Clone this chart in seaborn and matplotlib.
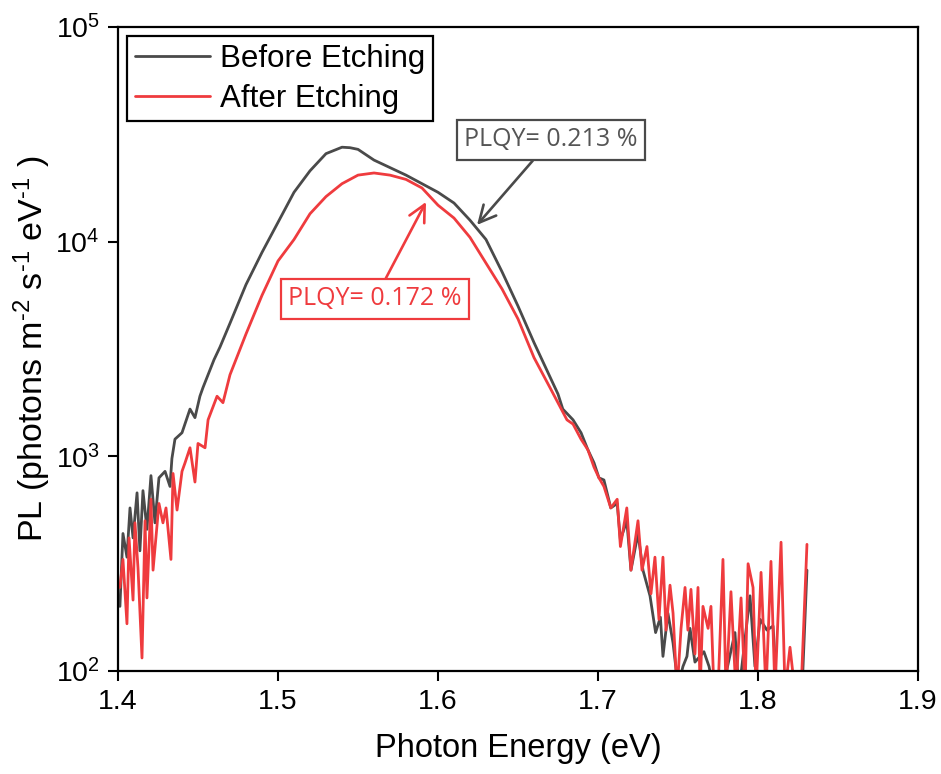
import pandas as pd
import seaborn as sns
import matplotlib.pyplot as plt
import numpy as np
from matplotlib.ticker import NullLocator, LogLocator

# Espectros PL (eV, photons m^-2 s^-1 eV^-1)
before_x = [1.4012, 1.4031, 1.4056, 1.4075, 1.4094, 1.4119, 1.4137, 1.4156, 1.4181, 1.4206,
            1.4231, 1.4256, 1.4294, 1.4325, 1.4337, 1.4356, 1.4400, 1.4450, 1.4481, 1.4512,
            1.4531, 1.4600, 1.4638, 1.4700, 1.4800, 1.4900, 1.5000, 1.5100, 1.5200, 1.5300,
            1.5400, 1.5450, 1.5500, 1.5600, 1.5700, 1.5800, 1.5900, 1.6000, 1.6100, 1.6200,
            1.6300, 1.6400, 1.6500, 1.6600, 1.6700, 1.6750, 1.6780, 1.6844, 1.6894, 1.6937,
            1.6975, 1.7006, 1.7037, 1.7080, 1.7120, 1.7140, 1.7180, 1.7206, 1.7250, 1.7281,
            1.7325, 1.7360, 1.7390, 1.7406, 1.7437, 1.7469, 1.7500, 1.7531, 1.7556, 1.7575,
            1.7606, 1.7662, 1.7694, 1.7725, 1.7775, 1.7856, 1.7881, 1.7950, 1.7981, 1.8013,
            1.8056, 1.8094, 1.8119, 1.8156, 1.8219, 1.8275, 1.8306]
before_pl = [200, 437, 339, 575, 417, 676, 363, 692, 457, 813,
             490, 794, 851, 724, 977, 1202, 1288, 1660, 1514, 1905,
             2089, 2818, 3236, 4169, 6310, 8913, 12300, 16982, 21380, 25704,
             27542, 27400, 26915, 23988, 22130, 20417, 18621, 16982, 15136, 12589,
             10233, 7244, 5012, 3388, 2344, 1950, 1660, 1479, 1288, 1072,
             933, 794, 776, 575, 603, 407, 501, 295, 437, 295,
             224, 151, 178, 117, 186, 135, 85, 105, 117, 158,
             110, 123, 105, 80, 80, 151, 80, 224, 105, 174,
             155, 162, 80, 80, 80, 80, 295]

after_x = [1.4012, 1.4031, 1.4056, 1.4069, 1.4094, 1.4106, 1.4125, 1.4150, 1.4169, 1.4181,
           1.4206, 1.4219, 1.4256, 1.4281, 1.4300, 1.4331, 1.4344, 1.4369, 1.4400, 1.4419,
           1.4450, 1.4481, 1.4500, 1.4544, 1.4563, 1.4619, 1.4656, 1.4700, 1.4800, 1.4900,
           1.5000, 1.5100, 1.5200, 1.5300, 1.5400, 1.5500, 1.5600, 1.5700, 1.5800, 1.5900,
           1.6000, 1.6100, 1.6200, 1.6300, 1.6400, 1.6500, 1.6600, 1.6700, 1.6806, 1.6844,
           1.6894, 1.6937, 1.6975, 1.7006, 1.7037, 1.7080, 1.7120, 1.7140, 1.7180, 1.7206,
           1.7250, 1.7275, 1.7306, 1.7331, 1.7356, 1.7381, 1.7406, 1.7425, 1.7450, 1.7469,
           1.7494, 1.7519, 1.7544, 1.7562, 1.7581, 1.7606, 1.7625, 1.7638, 1.7656, 1.7688,
           1.7706, 1.7725, 1.7750, 1.7781, 1.7800, 1.7831, 1.7862, 1.7894, 1.7919, 1.7938,
           1.7969, 1.7988, 1.8019, 1.8050, 1.8081, 1.8106, 1.8144, 1.8169, 1.8200, 1.8231,
           1.8269, 1.8306]
after_pl = [245, 331, 166, 417, 214, 490, 302, 115, 501, 219,
            631, 295, 603, 490, 575, 331, 832, 562, 851, 933,
            1096, 759, 1148, 1096, 1479, 1905, 1778, 2399, 3715, 5623,
            8128, 10233, 13490, 16218, 18621, 20417, 20893, 20417, 19498, 17783,
            14791, 12882, 10471, 7943, 6026, 4365, 2884, 2089, 1479, 1413,
            1202, 1072, 891, 794, 724, 575, 631, 380, 575, 295,
            501, 295, 380, 229, 339, 174, 339, 155, 251, 186,
            80, 158, 245, 155, 240, 120, 245, 80, 200, 158,
            200, 80, 80, 331, 80, 234, 80, 219, 80, 316,
            245, 80, 288, 80, 324, 80, 398, 80, 129, 80,
            80, 389]

labels = ['Before Etching', 'After Etching']
plqy = ['PLQY= 0.213 %', 'PLQY= 0.172 %']
gris = '#4a4a4a'
rojo = '#ef3b3e'

sns.set_style('ticks')
plt.rcParams['font.family'] = ['Liberation Sans', 'DejaVu Sans']
plt.rcParams['mathtext.fontset'] = 'custom'
plt.rcParams['mathtext.rm'] = 'Liberation Sans'
plt.rcParams['mathtext.it'] = 'Liberation Sans'
plt.rcParams['mathtext.default'] = 'regular'
for k in ['text.color', 'axes.labelcolor', 'xtick.color', 'ytick.color']:
    plt.rcParams[k] = 'black'

df_before = pd.DataFrame({'E': before_x, 'PL': before_pl})
df_after = pd.DataFrame({'E': after_x, 'PL': after_pl})

fig = plt.figure(figsize=(9.41, 7.74), dpi=100)
ax = fig.add_axes([118 / 941, 103 / 774, 800 / 941, 644 / 774])

sns.lineplot(data=df_before, x='E', y='PL', color=gris, lw=2.0, label=labels[0],
             estimator=None, sort=False, ax=ax)
sns.lineplot(data=df_after, x='E', y='PL', color=rojo, lw=2.0, label=labels[1],
             estimator=None, sort=False, ax=ax)

ax.set_yscale('log')
ax.set_xlim(1.4, 1.9)
ax.set_ylim(1e2, 1e5)
ax.set_xticks([1.4, 1.5, 1.6, 1.7, 1.8, 1.9])
ax.yaxis.set_major_locator(LogLocator(base=10, numticks=10))
ax.yaxis.set_minor_locator(NullLocator())

for s in ax.spines.values():
    s.set_linewidth(1.6)
    s.set_color('black')
ax.tick_params(axis='both', which='major', direction='out', length=7, width=1.5,
               labelsize=20.5, pad=6, top=False, right=False)

ax.set_xlabel('Photon Energy (eV)', fontsize=23.5, labelpad=13)
ax.set_ylabel(r'PL (photons m$^{\text{-}2}$ s$^{\text{-}1}$ eV$^{\text{-}1}$ )', fontsize=24.5, labelpad=2)

leg = ax.legend(loc='upper left', fontsize=22.5, frameon=True, fancybox=False,
                edgecolor='black', framealpha=1, borderaxespad=0.3,
                handlelength=2.4, handletextpad=0.3, labelspacing=0.3,
                borderpad=0.25)
leg.get_frame().set_linewidth(1.6)

# Anotaciones PLQY
ax.annotate(plqy[0], xy=(1.6244, 11970), xytext=(1.6705, 29800), textcoords='data',
            ha='center', va='center', fontsize=18, color='#555555', family='Open Sans',
            bbox=dict(boxstyle='square,pad=0.3', fc='white', ec=gris, lw=1.6),
            arrowprops=dict(arrowstyle='->', color=gris, lw=1.9, mutation_scale=30,
                            shrinkA=0, shrinkB=0))
ax.annotate(plqy[1], xy=(1.5925, 15310), xytext=(1.5606, 5410), textcoords='data',
            ha='center', va='center', fontsize=18, color=rojo, family='Open Sans',
            bbox=dict(boxstyle='square,pad=0.3', fc='white', ec=rojo, lw=1.6),
            arrowprops=dict(arrowstyle='->', color=rojo, lw=1.9, mutation_scale=30,
                            shrinkA=0, shrinkB=0))

fig.savefig('out.png', dpi=100)
